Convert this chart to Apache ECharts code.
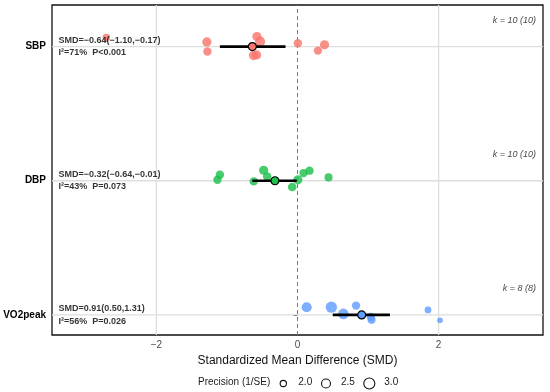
<!DOCTYPE html>
<html><head><meta charset="utf-8">
<script src="https://cdn.jsdelivr.net/npm/echarts@6/dist/echarts.min.js"></script>
<style>html,body{margin:0;padding:0;background:#fff}#c{width:550px;height:392px}</style>
</head><body><div id="c"></div>
<script>
// Outcomes, bottom to top (y positions 1, 2, 3)
const outcomes = ['VO2peak', 'DBP', 'SBP'];
const outcomeColors = ['#619CFF', '#1FC04C', '#F8766D'];
const pooledSMD = [0.91, -0.32, -0.64];
const pooledLo = [0.50, -0.64, -1.10];
const pooledHi = [1.31, -0.01, -0.17];
const pooledI2 = [56, 43, 71];
const pooledP = ['P=0.026', 'P=0.073', 'P<0.001'];
const kLabels = ['k = 8 (8)', 'k = 10 (10)', 'k = 10 (10)'];

// Study-level effects (SMD), vertical jitter, precision (1/SE)
const vo2SMD = [0.13, 0.48, 0.65, 0.83, 1.04, 1.05, 1.85, 2.02];
const vo2Jitter = [0.057, 0.057, 0.007, 0.069, -0.015, -0.037, 0.037, -0.040];
const vo2Precision = [2.5, 2.75, 2.6, 2.15, 2.15, 2.1, 1.9, 1.75];

const dbpSMD = [-1.10, -1.135, -0.48, -0.43, -0.62, -0.075, 0.005, 0.085, 0.17, 0.44];
const dbpJitter = [0.045, 0.007, 0.078, 0.032, -0.005, -0.047, 0.007, 0.057, 0.075, 0.025];
const dbpPrecision = [2.15, 2.15, 2.3, 2.15, 2.15, 2.2, 2.3, 2.15, 2.15, 2.1];

const sbpSMD = [-2.71, -1.285, -1.277, -0.576, -0.53, -0.624, -0.58, 0.005, 0.29, 0.383];
const sbpJitter = [0.067, 0.035, -0.037, 0.075, 0.037, -0.067, -0.062, 0.025, -0.030, 0.013];
const sbpPrecision = [2.0, 2.3, 2.15, 2.3, 2.5, 2.3, 2.3, 2.15, 2.15, 2.3];

const xTicks = [-2, 0, 2];
const legendPrecision = [2.0, 2.5, 3.0];
const xMin = -3.48, xMax = 3.48, yMin = 0.85, yMax = 3.31;

const studySMD = [vo2SMD, dbpSMD, sbpSMD];
const studyJitter = [vo2Jitter, dbpJitter, sbpJitter];
const studyPrecision = [vo2Precision, dbpPrecision, sbpPrecision];

const FONT = "'Liberation Sans', Arial, sans-serif";
const minus = s => String(s).replace(/-/g, '\u2212');
const sizeOf = p => Math.sqrt(Math.max(56 + 95 * (p - 2), 20));

const series = [];
// grid lines
const gridStyle = { color: '#dedede', width: 1.3 };
xTicks.filter(v => v !== 0).forEach(v => series.push({
  type: 'line', z: 1, silent: true, symbol: 'none', data: [[v, yMin], [v, yMax]], lineStyle: gridStyle
}));
outcomes.forEach((o, i) => series.push({
  type: 'line', z: 1, silent: true, symbol: 'none', data: [[xMin, i + 1], [xMax, i + 1]], lineStyle: gridStyle
}));
series.push({
  type: 'line', z: 2, silent: true, symbol: 'none', data: [[0, yMin], [0, yMax]],
  lineStyle: { color: '#7a7a7a', width: 1, type: [4, 3] }
});

outcomes.forEach((o, i) => {
  const pos = i + 1;
  series.push({
    type: 'scatter', name: o, z: 3,
    data: studySMD[i].map((v, j) => [v, pos + studyJitter[i][j], studyPrecision[i][j]]),
    symbolSize: v => sizeOf(v[2]),
    itemStyle: { color: outcomeColors[i], opacity: 0.82 }
  });
  series.push({
    type: 'line', z: 4, symbol: 'none',
    data: [[pooledLo[i], pos], [pooledHi[i], pos]],
    lineStyle: { color: '#000', width: 2.6 }
  });
  series.push({
    type: 'scatter', z: 5,
    data: [[pooledSMD[i], pos]],
    symbolSize: 8,
    itemStyle: { color: outcomeColors[i], borderColor: '#000', borderWidth: 1.2, opacity: 1 }
  });
  series.push({
    type: 'scatter', z: 6, symbolSize: 0.1, itemStyle: { color: 'rgba(0,0,0,0)' },
    data: [[xMin, pos]],
    label: {
      show: true, position: 'right', distance: 6.5, align: 'left', verticalAlign: 'middle',
      formatter: () => '{a|SMD=' + minus(pooledSMD[i].toFixed(2)) + '(' + minus(pooledLo[i].toFixed(2)) + ',' + minus(pooledHi[i].toFixed(2)) + ')}\n{a|I\u00b2=' + pooledI2[i] + '%  ' + pooledP[i] + '}',
      rich: { a: { fontFamily: FONT, fontWeight: 'bold', fontSize: 9, color: '#000', lineHeight: 12.5 } }
    }
  });
  series.push({
    type: 'scatter', z: 6, symbolSize: 0.1, itemStyle: { color: 'rgba(0,0,0,0)' },
    data: [[xMax, pos + 0.194]],
    label: {
      show: true, position: 'left', distance: 7, align: 'right', verticalAlign: 'middle',
      formatter: () => kLabels[i],
      fontFamily: FONT, fontStyle: 'italic', fontSize: 9, color: '#111'
    }
  });
});

// legend graphic
const legendY = 383.5;
const circleX = [283.3, 326, 369.3];
const graphic = [{
  type: 'text', left: 198, top: legendY - 6,
  style: { text: 'Precision (1/SE)', fontFamily: FONT, fontSize: 10, fill: '#1a1a1a' }
}];
legendPrecision.forEach((p, k) => {
  graphic.push({
    type: 'circle', shape: { cx: circleX[k], cy: legendY, r: sizeOf(p) / 2 - 0.6 },
    style: { fill: '#fff', stroke: '#111', lineWidth: 1.1 }
  });
  graphic.push({
    type: 'text', left: circleX[k] + 15, top: legendY - 6,
    style: { text: p.toFixed(1), fontFamily: FONT, fontSize: 10, fill: '#1a1a1a' }
  });
});

const chart = echarts.init(document.getElementById('c'), null, { renderer: 'canvas' });
chart.setOption({
  animation: false,
  backgroundColor: '#fff',
  grid: { left: 52, right: 7, top: 5, bottom: 57, show: true, borderColor: '#111', borderWidth: 1.3, backgroundColor: 'transparent' },
  xAxis: {
    type: 'value', min: xMin, max: xMax,
    name: 'Standardized Mean Difference (SMD)', nameLocation: 'middle', nameGap: 16,
    nameTextStyle: { fontFamily: FONT, fontSize: 12, color: '#111' },
    axisLine: { show: false }, splitLine: { show: false },
    axisTick: { show: false, customValues: xTicks },
    axisLabel: { customValues: xTicks, margin: 5, fontFamily: FONT, fontSize: 10, color: '#4d4d4d', formatter: v => minus(v) }
  },
  yAxis: {
    type: 'value', min: yMin, max: yMax,
    axisLine: { show: false }, splitLine: { show: false },
    axisTick: { show: true, customValues: [1, 2, 3], length: 4, lineStyle: { color: '#333', width: 1 } },
    axisLabel: { customValues: [1, 2, 3], margin: 6, fontFamily: FONT, fontSize: 10, fontWeight: 'bold', color: '#000', formatter: v => outcomes[Math.round(v) - 1] || '' }
  },
  graphic: graphic,
  series: series
});
</script>
</body></html>
